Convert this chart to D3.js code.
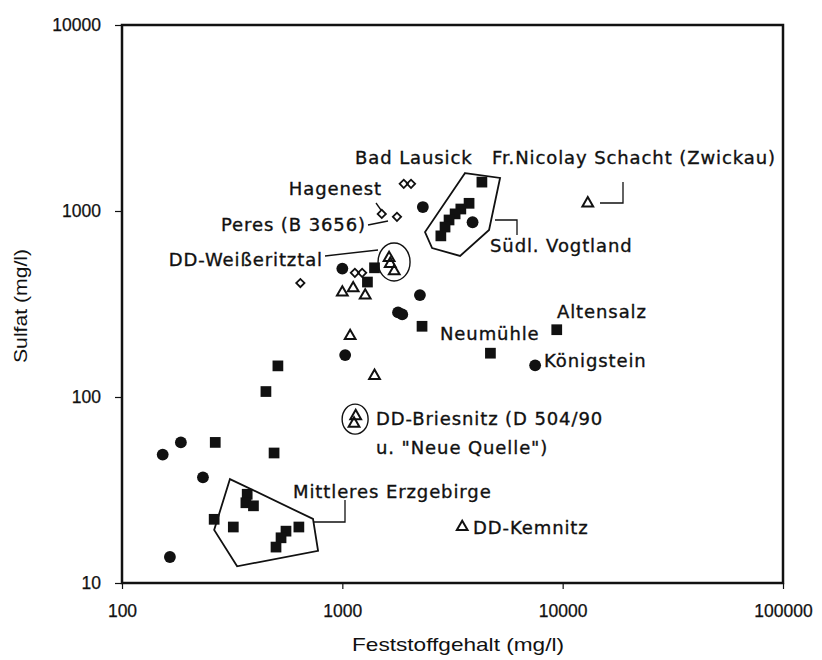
<!DOCTYPE html>
<html>
<head>
<meta charset="utf-8">
<script src="https://cdn.jsdelivr.net/npm/d3@7"></script>
<style>
  body { margin: 0; background: #fff; }
  .tick text { font-family: "Liberation Sans", Arial, sans-serif; font-size: 17.5px; fill: #111; stroke: #111; stroke-width: 0.25px; }
  .note { font-family: "DejaVu Sans", sans-serif; font-size: 18px; letter-spacing: 0.9px; fill: #111; stroke: #111; stroke-width: 0.35px; }
  .title { font-family: "Liberation Sans", Arial, sans-serif; font-size: 19px; fill: #111; }
</style>
</head>
<body>
<div id="canvas"></div>
<script>
// Feststoffgehalt (mg/l), Sulfat (mg/l)
const squares = [
  [510, 147], [450, 107], [265, 57], [490, 50],
  [370, 30], [365, 27], [395, 26], [262, 22], [320, 20], [635, 20], [555, 19], [527, 17.5], [500, 15.6],
  [4300, 1430], [3760, 1100], [3450, 1025], [3250, 965], [3050, 895], [2925, 820], [2800, 735],
  [1400, 495], [1300, 415], [2300, 240], [4700, 172], [9400, 230]
];
const circles = [
  [1000, 490], [2320, 1050], [3900, 870], [2250, 353], [1790, 285], [1870, 278],
  [1030, 168], [7500, 148], [153, 49], [185, 57], [233, 37], [165, 13.8]
];
const triangles = [
  [13000, 1100], [1630, 560], [1650, 520], [1720, 475], [1000, 365], [1120, 385], [1270, 352],
  [1085, 213], [1400, 130], [1150, 79], [1130, 72], [3500, 20]
];
const diamonds = [
  [1900, 1400], [2050, 1400], [1510, 965], [1770, 930], [645, 410], [1140, 465], [1230, 465]
];

// Gruppen (Umrisse)
const suedlVogtland = [[3606, 1600], [5199, 1505], [4634, 790], [3423, 573], [2555, 632], [2373, 771]];
const mittleresErzgebirge = [[309, 36.2], [736, 22.1], [776, 14.9], [333, 12.3], [262, 19.3]];
const ellipses = [
  {at: [1717, 532], rx: 16, ry: 19},
  {at: [1143, 76], rx: 13, ry: 15}
];

const xTicks = [100, 1000, 10000, 100000];
const yTicks = [10, 100, 1000, 10000];

var margin = {left: 122, right: 39, top: 25, bottom: 77};
var width = 822 - margin.left - margin.right,
  height = 660 - margin.top - margin.bottom;

var svg = d3.select("#canvas")
  .append("svg")
  .attr("width", 822)
  .attr("height", 660);

var g = svg.append("g")
  .attr("transform", "translate(" + margin.left + ", " + margin.top + ")");

var x = d3.scaleLog().domain([100, 100000]).range([0, width]);
var y = d3.scaleLog().domain([10, 10000]).range([height, 0]);

const xAxisCall = d3.axisBottom(x)
  .tickValues(xTicks)
  .tickFormat(d3.format("d"))
  .tickSize(6)
  .tickPadding(16);
g.append("g")
  .attr("class", "x-axis")
  .attr("transform", `translate(0,${height})`)
  .call(xAxisCall);

const yAxisCall = d3.axisLeft(y)
  .tickValues(yTicks)
  .tickFormat(d3.format("d"))
  .tickSize(7)
  .tickPadding(14);
g.append("g")
  .attr("class", "y-axis")
  .call(yAxisCall);

g.selectAll(".domain").remove();
g.selectAll(".tick line").attr("stroke", "#111").attr("stroke-width", 1.2);

// Rahmen
g.append("rect")
  .attr("width", width)
  .attr("height", height)
  .attr("fill", "none")
  .attr("stroke", "#111")
  .attr("stroke-width", 2.5);

// Achsentitel
svg.append("text")
  .attr("class", "title")
  .attr("x", 458)
  .attr("y", 651)
  .attr("text-anchor", "middle")
  .attr("textLength", 212)
  .attr("lengthAdjust", "spacingAndGlyphs")
  .text("Feststoffgehalt (mg/l)");

svg.append("text")
  .attr("class", "title")
  .attr("transform", "translate(27,306) rotate(-90)")
  .attr("text-anchor", "middle")
  .attr("textLength", 114)
  .attr("lengthAdjust", "spacingAndGlyphs")
  .text("Sulfat (mg/l)");

// Umrisse
const line = d3.line().x(d => x(d[0])).y(d => y(d[1])).curve(d3.curveLinearClosed);
g.selectAll(".hull")
  .data([suedlVogtland, mittleresErzgebirge])
  .enter()
  .append("path")
  .attr("class", "hull")
  .attr("d", line)
  .attr("fill", "none")
  .attr("stroke", "#111")
  .attr("stroke-width", 1.8);

g.selectAll(".ring")
  .data(ellipses)
  .enter()
  .append("ellipse")
  .attr("cx", d => x(d.at[0]))
  .attr("cy", d => y(d.at[1]))
  .attr("rx", d => d.rx)
  .attr("ry", d => d.ry)
  .attr("fill", "none")
  .attr("stroke", "#111")
  .attr("stroke-width", 1.4);

// Punkte
const pos = d => `translate(${x(d[0])},${y(d[1])})`;

g.selectAll(".sq")
  .data(squares)
  .enter()
  .append("path")
  .attr("d", d3.symbol(d3.symbolSquare, 115))
  .attr("transform", pos)
  .attr("fill", "#111");

g.selectAll(".ci")
  .data(circles)
  .enter()
  .append("path")
  .attr("d", d3.symbol(d3.symbolCircle, 110))
  .attr("transform", pos)
  .attr("fill", "#111");

g.selectAll(".tr")
  .data(triangles)
  .enter()
  .append("path")
  .attr("d", d3.symbol(d3.symbolTriangle, 50))
  .attr("transform", pos)
  .attr("fill", "none")
  .attr("stroke", "#111")
  .attr("stroke-width", 2);

g.selectAll(".di")
  .data(diamonds)
  .enter()
  .append("path")
  .attr("d", d3.symbol(d3.symbolSquare, 34))
  .attr("transform", d => pos(d) + " rotate(45)")
  .attr("fill", "none")
  .attr("stroke", "#111")
  .attr("stroke-width", 1.8);

// Beschriftungen (Pixel im SVG)
const notes = [
  {t: "Bad Lausick", x: 355, y: 164},
  {t: "Fr.Nicolay Schacht (Zwickau)", x: 492, y: 164},
  {t: "Hagenest", x: 382, y: 195, a: "end"},
  {t: "Peres (B 3656)", x: 366, y: 231, a: "end"},
  {t: "DD-Weißeritztal", x: 323, y: 266, a: "end"},
  {t: "Südl. Vogtland", x: 490, y: 252},
  {t: "Altensalz", x: 557, y: 318},
  {t: "Neumühle", x: 440, y: 340},
  {t: "Königstein", x: 544, y: 367},
  {t: "DD-Briesnitz (D 504/90", x: 376, y: 425},
  {t: "u. \"Neue Quelle\")", x: 376, y: 454},
  {t: "Mittleres Erzgebirge", x: 293, y: 498},
  {t: "DD-Kemnitz", x: 473, y: 534}
];
svg.selectAll(".note")
  .data(notes)
  .enter()
  .append("text")
  .attr("class", "note")
  .attr("x", d => d.x)
  .attr("y", d => d.y)
  .attr("text-anchor", d => d.a || "start")
  .text(d => d.t);

const leaders = [
  [[600, 203], [623, 203], [623, 182]],
  [[495, 220], [517, 220], [517, 235]],
  [[314, 522], [345, 522], [345, 500]],
  [[368, 225], [388, 221]],
  [[376, 203], [381, 210]],
  [[325, 256], [378, 250]]
];
svg.selectAll(".leader")
  .data(leaders)
  .enter()
  .append("path")
  .attr("d", d3.line())
  .attr("fill", "none")
  .attr("stroke", "#111")
  .attr("stroke-width", 1.3);
</script>
</body>
</html>
